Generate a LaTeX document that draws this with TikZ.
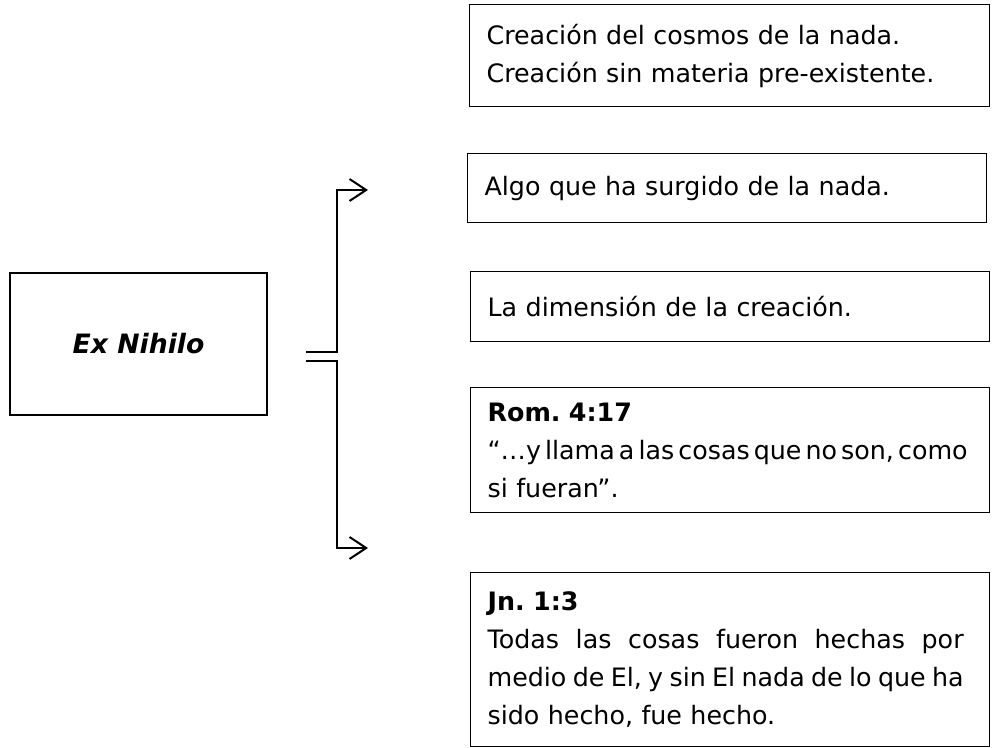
\documentclass[tikz,border=0pt]{standalone}
\usepackage{fontspec}
\setmainfont{DejaVu Sans}
\usetikzlibrary{arrows.meta}
\newcommand\jsp{\hskip 0.16em plus 1fil\relax}
\newcommand\jline[1]{\leavevmode\hbox to 357pt{#1}}
\begin{document}
\begin{tikzpicture}[x=0.75pt,y=-0.75pt,
  box/.style={draw=black, line width=0.9pt, rectangle, anchor=north west,
    inner xsep=12.75pt, inner ysep=0pt, align=left,
    font=\fontsize{19}{28.5}\selectfont\frenchspacing},
  conn/.style={line width=1.5pt, -{Straight Barb[length=12.5pt,width=16.5pt,line width=1.5pt]}}]
\path[use as bounding box] (0,0) rectangle (997,748);

\node[box, anchor=center, align=center, minimum width=192.75pt, minimum height=106.5pt, font=\fontsize{20}{28.5}\selectfont\bfseries\itshape]
  (ex) at (138.5,344) {Ex Nihilo};

\node[box, text width=364.5pt, minimum height=76.5pt] (b1) at (469,4)
  {Creación del cosmos de la nada.\\Creación sin materia pre-existente.};
\node[box, text width=363.75pt, minimum height=51.75pt] (b2) at (467,153)
  {Algo que ha surgido de la nada.};
\node[box, text width=363.75pt, minimum height=52.5pt] (b3) at (470,271)
  {La dimensión de la creación.};
\node[box, text width=363.75pt, minimum height=93.75pt] (b4) at (470,387)
  {\textbf{Rom. 4:17}\\\jline{“…y\jsp llama\jsp a\jsp las\jsp cosas\jsp que\jsp no\jsp son,\jsp como}\\si fueran”.};
\node[box, text width=363.75pt, minimum height=130.5pt] (b5) at (470,572)
  {\textbf{Jn. 1:3}\\\jline{Todas\jsp las\jsp cosas\jsp fueron\jsp hechas\jsp por}\\\jline{medio\jsp de\jsp El,\jsp y\jsp sin\jsp El\jsp nada\jsp de\jsp lo\jsp que\jsp ha}\\sido hecho, fue hecho.};

\coordinate (s1) at (306,352);
\coordinate (s2) at (306,361);
\coordinate (t1) at (368,190);
\coordinate (t2) at (368,548);
\coordinate (v1) at (337,352);
\coordinate (v2) at (337,361);

\draw[conn] (s1) -- (v1) |- (t1);
\draw[conn] (s2) -- (v2) |- (t2);
\end{tikzpicture}
\end{document}
